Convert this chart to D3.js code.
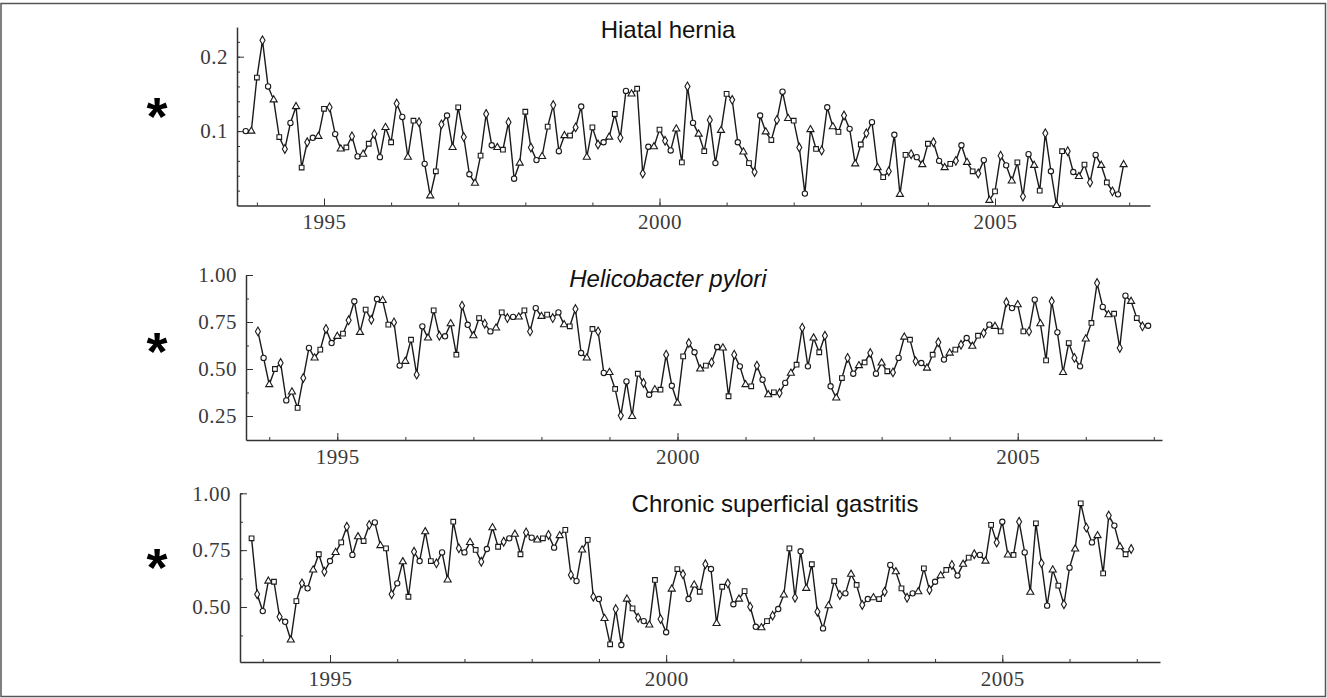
<!DOCTYPE html>
<html>
<head>
<meta charset="utf-8">
<script src="https://cdn.jsdelivr.net/npm/d3@7"></script>
<style>
    body { margin: 0; background: #fff; }
    .tick text { font-family: "Liberation Serif", serif; font-size: 21px; fill: #3a3a3a; letter-spacing: 0.5px; }
    .axis path, .axis line { stroke: #333; }
    .title { font-family: "Liberation Sans", Arial, sans-serif; font-size: 24px; fill: #111; }
    .star { font-family: "Liberation Sans", Arial, sans-serif; font-size: 54px; font-weight: bold; fill: #000; }
</style>
</head>
<body>
<script>
//monthly series start in Nov 1993
var startYear = 1993 + 10 / 12;

//panel titles
var titles = ["Hiatal hernia", "Helicobacter pylori", "Chronic superficial gastritis"];

//x tick labels
var yearTicks = [1995, 2000, 2005];

//y tick labels for each panel
var hiatalTicks = [0.1, 0.2],
    pyloriTicks = [0.25, 0.50, 0.75, 1.00],
    gastritisTicks = [0.50, 0.75, 1.00];

//series values
var hiatalValues = [
    0.100, 0.100, 0.172, 0.222, 0.160, 0.142, 0.092, 0.076, 0.111, 0.133,
    0.051, 0.085, 0.091, 0.093, 0.130, 0.132, 0.096, 0.076, 0.078, 0.093,
    0.066, 0.069, 0.083, 0.096, 0.065, 0.105, 0.085, 0.137, 0.119, 0.065,
    0.114, 0.112, 0.056, 0.013, 0.046, 0.109, 0.121, 0.078, 0.132, 0.092,
    0.042, 0.030, 0.067, 0.123, 0.081, 0.078, 0.075, 0.112, 0.036, 0.057,
    0.126, 0.078, 0.061, 0.066, 0.106, 0.135, 0.073, 0.094, 0.094, 0.105,
    0.133, 0.065, 0.105, 0.082, 0.085, 0.092, 0.123, 0.091, 0.154, 0.150,
    0.157, 0.043, 0.079, 0.079, 0.102, 0.087, 0.074, 0.103, 0.058, 0.160,
    0.111, 0.096, 0.073, 0.115, 0.057, 0.101, 0.150, 0.142, 0.085, 0.072,
    0.057, 0.045, 0.121, 0.099, 0.088, 0.115, 0.153, 0.117, 0.114, 0.078,
    0.016, 0.102, 0.076, 0.074, 0.132, 0.106, 0.099, 0.121, 0.103, 0.056,
    0.082, 0.097, 0.112, 0.051, 0.038, 0.046, 0.095, 0.015, 0.068, 0.069,
    0.065, 0.055, 0.083, 0.085, 0.060, 0.051, 0.056, 0.060, 0.081, 0.058,
    0.046, 0.043, 0.061, 0.007, 0.019, 0.067, 0.054, 0.033, 0.058, 0.012,
    0.069, 0.054, 0.020, 0.097, 0.046, 0.000, 0.073, 0.073, 0.045, 0.039,
    0.055, 0.031, 0.068, 0.054, 0.031, 0.019, 0.015, 0.055
];

var pyloriValues = [
    0.700, 0.559, 0.417, 0.500, 0.532, 0.333, 0.378, 0.293, 0.452, 0.612,
    0.559, 0.603, 0.713, 0.638, 0.674, 0.688, 0.759, 0.860, 0.695, 0.816,
    0.762, 0.872, 0.865, 0.736, 0.748, 0.518, 0.541, 0.656, 0.470, 0.727,
    0.665, 0.812, 0.677, 0.674, 0.741, 0.576, 0.837, 0.735, 0.677, 0.771,
    0.741, 0.700, 0.718, 0.801, 0.771, 0.777, 0.777, 0.812, 0.700, 0.824,
    0.780, 0.789, 0.771, 0.801, 0.736, 0.727, 0.819, 0.585, 0.559, 0.713,
    0.700, 0.479, 0.482, 0.394, 0.252, 0.434, 0.248, 0.475, 0.426, 0.363,
    0.390, 0.390, 0.576, 0.411, 0.319, 0.567, 0.638, 0.589, 0.500, 0.518,
    0.535, 0.617, 0.612, 0.355, 0.576, 0.514, 0.417, 0.408, 0.518, 0.443,
    0.363, 0.376, 0.372, 0.426, 0.478, 0.523, 0.720, 0.514, 0.665, 0.589,
    0.677, 0.408, 0.346, 0.452, 0.559, 0.475, 0.518, 0.535, 0.585, 0.475,
    0.532, 0.488, 0.482, 0.559, 0.670, 0.656, 0.541, 0.532, 0.505, 0.576,
    0.642, 0.550, 0.585, 0.603, 0.629, 0.665, 0.621, 0.677, 0.691, 0.736,
    0.727, 0.700, 0.855, 0.824, 0.842, 0.700, 0.700, 0.869, 0.741, 0.546,
    0.860, 0.695, 0.482, 0.638, 0.559, 0.514, 0.660, 0.745, 0.957, 0.830,
    0.789, 0.794, 0.612, 0.890, 0.860, 0.771, 0.727, 0.730
];

var gastritisValues = [
    0.802, 0.556, 0.482, 0.614, 0.611, 0.457, 0.435, 0.355, 0.526, 0.604,
    0.582, 0.663, 0.732, 0.655, 0.702, 0.740, 0.784, 0.853, 0.729, 0.809,
    0.790, 0.861, 0.872, 0.770, 0.758, 0.556, 0.604, 0.699, 0.545, 0.743,
    0.702, 0.831, 0.702, 0.692, 0.740, 0.619, 0.875, 0.758, 0.740, 0.784,
    0.751, 0.699, 0.755, 0.849, 0.765, 0.787, 0.802, 0.820, 0.732, 0.828,
    0.805, 0.795, 0.802, 0.817, 0.761, 0.814, 0.839, 0.641, 0.614, 0.751,
    0.795, 0.545, 0.535, 0.450, 0.336, 0.491, 0.333, 0.535, 0.494, 0.453,
    0.438, 0.421, 0.619, 0.447, 0.389, 0.579, 0.667, 0.644, 0.535, 0.597,
    0.567, 0.688, 0.667, 0.428, 0.589, 0.604, 0.512, 0.535, 0.570, 0.501,
    0.413, 0.409, 0.438, 0.462, 0.491, 0.553, 0.758, 0.541, 0.745, 0.582,
    0.688, 0.479, 0.406, 0.506, 0.614, 0.553, 0.560, 0.644, 0.597, 0.509,
    0.535, 0.541, 0.535, 0.567, 0.685, 0.655, 0.582, 0.541, 0.560, 0.567,
    0.670, 0.575, 0.611, 0.638, 0.663, 0.685, 0.638, 0.688, 0.717, 0.732,
    0.729, 0.702, 0.861, 0.784, 0.875, 0.729, 0.729, 0.875, 0.740, 0.565,
    0.868, 0.692, 0.506, 0.663, 0.594, 0.512, 0.673, 0.755, 0.956, 0.849,
    0.784, 0.814, 0.648, 0.902, 0.858, 0.765, 0.732, 0.755
];

window.onload = drawChart();

function drawChart(){
    var width = 1327,
        height = 698;

    var svg = d3.select("body")
        .append("svg")
        .attr("width", width)
        .attr("height", height);

    //outer frame
    svg.append("rect")
        .attr("x", 1).attr("y", 3.5)
        .attr("width", width - 2.5).attr("height", height - 5)
        .attr("fill", "none")
        .attr("stroke", "#555")
        .attr("stroke-width", 1.5);

    //panel layout (pixel positions only)
    var panels = [
        {values: hiatalValues, ticks: hiatalTicks, fmt: d3.format(".1f"), minorStep: 0.02,
         yDom: [0, 0.2], yRange: [205.5, 56.7], yBase: 205.5, yTop: 27,
         xRange: [324, 995], xAxisEnds: [237, 1150],
         title: {x: 668, y: 38, italic: false}, star: 135},
        {values: pyloriValues, ticks: pyloriTicks, fmt: d3.format(".2f"), minorStep: 0.125,
         yDom: [0.25, 1], yRange: [416, 275], yBase: 440, yTop: 275,
         xRange: [337.3, 1017.7], xAxisEnds: [246, 1162],
         title: {x: 668, y: 287, italic: true}, star: 369.5},
        {values: gastritisValues, ticks: gastritisTicks, fmt: d3.format(".2f"), minorStep: 0.125,
         yDom: [0.5, 1], yRange: [607, 493.3], yBase: 662, yTop: 493.3,
         xRange: [330, 1002.3], xAxisEnds: [240, 1160],
         title: {x: 775, y: 512, italic: false}, star: 585.5}
    ];

    var symbols = [d3.symbolCircle, d3.symbolDiamond, d3.symbolSquare, d3.symbolTriangle];

    panels.forEach(function(p, k){
        //scales
        var x = d3.scaleLinear().domain([1995, 2005]).range(p.xRange);
        x = x.copy().domain([x.invert(p.xAxisEnds[0]), x.invert(p.xAxisEnds[1])]).range(p.xAxisEnds);

        var y = d3.scaleLinear().domain(p.yDom).range(p.yRange);
        y = y.copy().domain([y.invert(p.yBase), y.invert(p.yTop)]).range([p.yBase, p.yTop]);

        var g = svg.append("g");

        //minor x ticks every year
        var years = d3.range(1994, 2008).filter(function(v){ return v <= x.domain()[1]; });
        g.append("g")
            .attr("class", "axis")
            .attr("transform", "translate(0," + p.yBase + ")")
            .call(d3.axisBottom(x).tickValues(years).tickSize(-3).tickSizeOuter(0).tickFormat(""))
            .select(".domain").attr("stroke-width", 1.5);

        //major x ticks
        g.append("g")
            .attr("class", "axis")
            .attr("transform", "translate(0," + p.yBase + ")")
            .call(d3.axisBottom(x).tickValues(yearTicks).tickSize(-7).tickSizeOuter(0).tickPadding(8.6).tickFormat(d3.format("d")))
            .select(".domain").remove();

        //minor y ticks
        var lo = y.domain()[0], hi = y.domain()[1];
        var minor = d3.range(Math.ceil(lo / p.minorStep - 1e-6) * p.minorStep, hi + 1e-6, p.minorStep)
            .filter(function(v){ return v > lo + 0.01; });
        g.append("g")
            .attr("class", "axis")
            .attr("transform", "translate(" + p.xAxisEnds[0] + ",0)")
            .call(d3.axisLeft(y).tickValues(minor).tickSize(-3).tickSizeOuter(0).tickFormat(""))
            .select(".domain").attr("stroke-width", 1.5);

        //major y ticks
        g.append("g")
            .attr("class", "axis")
            .attr("transform", "translate(" + p.xAxisEnds[0] + ",0)")
            .call(d3.axisLeft(y).tickValues(p.ticks).tickSize(-7).tickSizeOuter(0).tickPadding(9).tickFormat(p.fmt))
            .select(".domain").remove();

        //series
        var data = p.values.map(function(v, i){ return {t: startYear + i / 12, v: v, i: i}; });

        var line = d3.line()
            .x(function(d){ return x(d.t); })
            .y(function(d){ return y(d.v); });

        g.append("path")
            .datum(data)
            .attr("fill", "none")
            .attr("stroke", "#1a1a1a")
            .attr("stroke-width", 1.4)
            .attr("d", line);

        g.selectAll(".marker")
            .data(data)
            .enter()
            .append("path")
            .attr("class", "marker")
            .attr("transform", function(d){ return "translate(" + x(d.t) + "," + y(d.v) + ")"; })
            .attr("d", function(d){ return d3.symbol().type(symbols[(d.i * 7 + k) % 4]).size(22)(); })
            .attr("fill", "#fff")
            .attr("stroke", "#1a1a1a")
            .attr("stroke-width", 1.1);

        //title
        svg.append("text")
            .attr("class", "title")
            .attr("x", p.title.x)
            .attr("y", p.title.y)
            .attr("text-anchor", "middle")
            .style("font-style", p.title.italic ? "italic" : "normal")
            .text(titles[k]);

        //significance star
        svg.append("text")
            .attr("class", "star")
            .attr("x", 157)
            .attr("y", p.star)
            .attr("text-anchor", "middle")
            .text("*");
    });
};
</script>
</body>
</html>
